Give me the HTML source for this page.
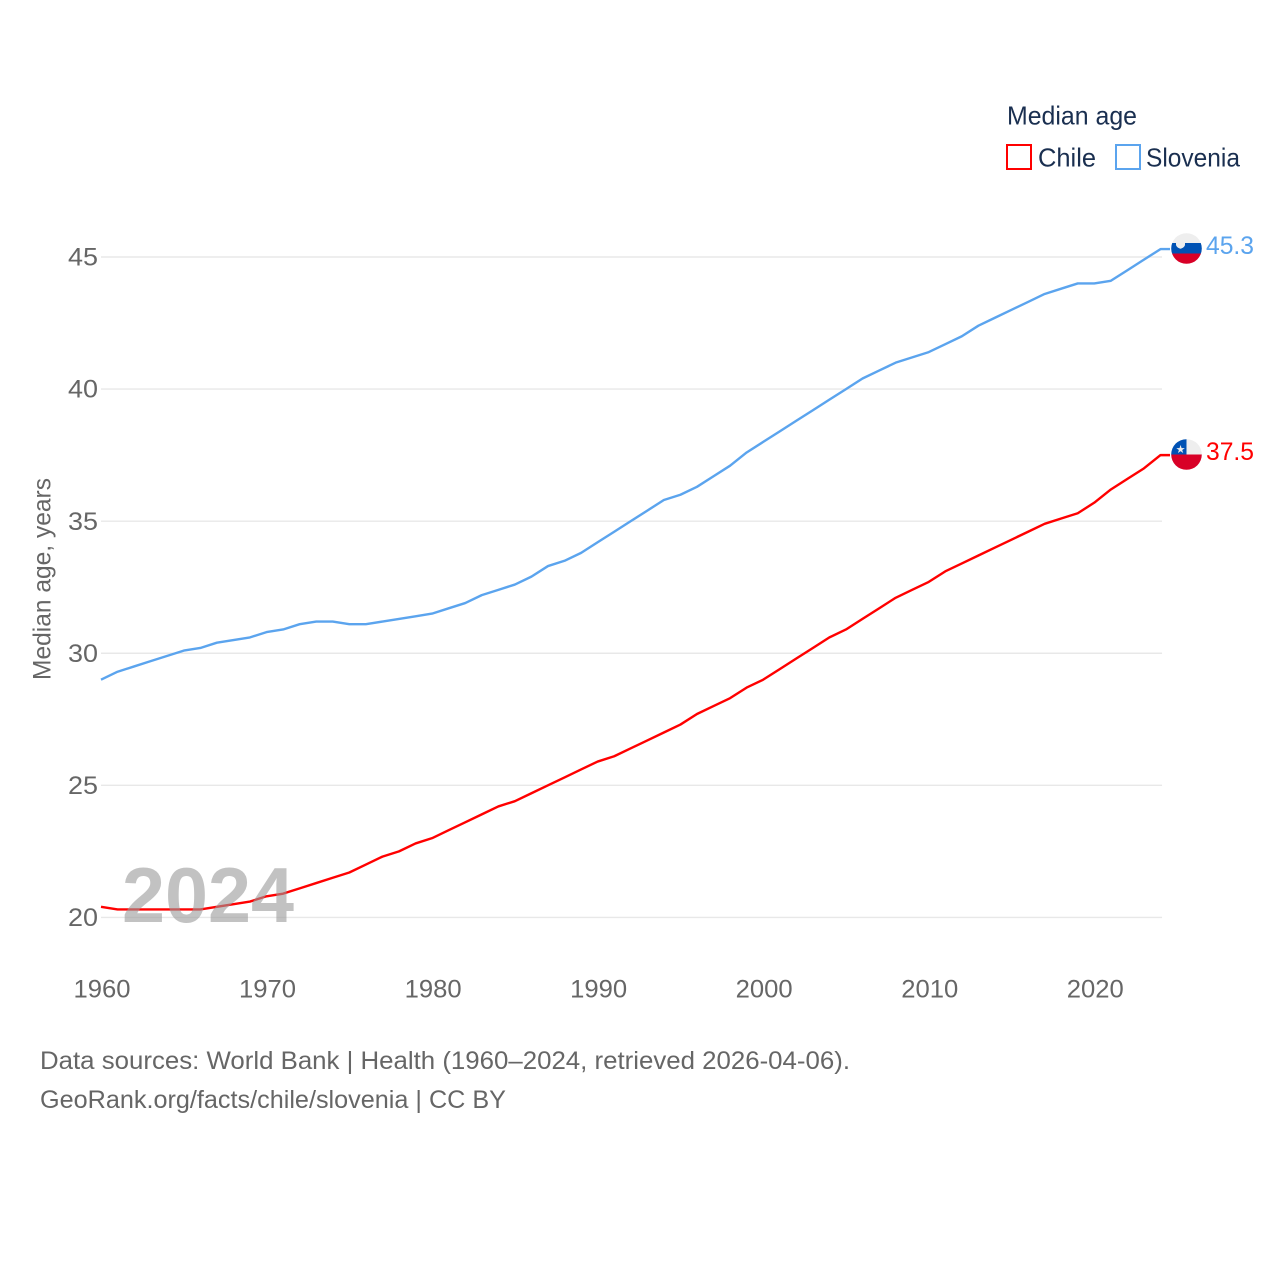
<!DOCTYPE html>
<html lang="en">
<head>
<meta charset="utf-8">
<title>Median age: Chile and Slovenia</title>
<style>
html,body{margin:0;padding:0;background:#fff;width:1280px;height:1280px;overflow:hidden}
svg{display:block}
text{font-family:"Liberation Sans",sans-serif}
</style>
</head>
<body>
<svg id="chart" width="1280" height="1280" viewBox="0 0 1280 1280" xmlns="http://www.w3.org/2000/svg">
  <defs>
    <clipPath id="clip-si"><circle cx="1186.5" cy="248.5" r="15.3"/></clipPath>
    <clipPath id="clip-cl"><circle cx="1186.5" cy="454.5" r="15.3"/></clipPath>
  </defs>
  <g id="grid"></g>
  <g id="yticks"></g>
  <g id="xticks"></g>
  <text transform="translate(50.5,680) rotate(-90)" font-size="25" fill="#666" textLength="202" lengthAdjust="spacingAndGlyphs">Median age, years</text>
  <g id="lines"></g>
  <text x="122" y="922" font-size="78" font-weight="bold" fill="#999" fill-opacity="0.6" textLength="172" lengthAdjust="spacingAndGlyphs">2024</text>

  <g clip-path="url(#clip-si)">
    <rect x="1170" y="232" width="33" height="11" fill="#eeeeee"/>
    <rect x="1170" y="243" width="33" height="10.5" fill="#0052b4"/>
    <rect x="1170" y="253.5" width="33" height="12" fill="#d80027"/>
    <path d="M1176 239.5h9v5c0 2.2-2.4 3.6-4.5 4.3c-2.1-.7-4.5-2.1-4.5-4.3z" fill="#eeeeee"/>
  </g>
  <g clip-path="url(#clip-cl)">
    <rect x="1170" y="438" width="33" height="16.5" fill="#eeeeee"/>
    <rect x="1170" y="438" width="16.5" height="16.5" fill="#0052b4"/>
    <rect x="1170" y="454.5" width="33" height="17" fill="#d80027"/>
    <text x="1180.5" y="453" font-size="11" fill="#eeeeee" text-anchor="middle">★</text>
  </g>
  <text x="1206" y="254" font-size="25" fill="#5ba4ee" textLength="48" lengthAdjust="spacingAndGlyphs">45.3</text>
  <text x="1206" y="460" font-size="25" fill="#ff0000" textLength="48" lengthAdjust="spacingAndGlyphs">37.5</text>

  <g>
    <text x="1007" y="124.5" font-size="26" fill="#1a2f50" textLength="130" lengthAdjust="spacingAndGlyphs">Median age</text>
    <g>
      <rect x="1007" y="145" width="24" height="24" fill="none" stroke="#ff0000" stroke-width="2"/>
      <text x="1038" y="166.5" font-size="26" fill="#1a2f50" textLength="58" lengthAdjust="spacingAndGlyphs">Chile</text>
    </g>
    <g>
      <rect x="1116" y="145" width="24" height="24" fill="none" stroke="#5ba4ee" stroke-width="2"/>
      <text x="1146" y="166.5" font-size="26" fill="#1a2f50" textLength="94" lengthAdjust="spacingAndGlyphs">Slovenia</text>
    </g>
  </g>

  <text x="40" y="1069" font-size="25" fill="#666" textLength="810" lengthAdjust="spacingAndGlyphs">Data sources: World Bank | Health (1960–2024, retrieved 2026-04-06).</text>
  <text x="40" y="1108" font-size="25" fill="#666" textLength="466" lengthAdjust="spacingAndGlyphs">GeoRank.org/facts/chile/slovenia | CC BY</text>
</svg>
<script>
const startYear = 1960;
const yTicks = [20, 25, 30, 35, 40, 45];
const xTicks = [1960, 1970, 1980, 1990, 2000, 2010, 2020];
const chileValues = [20.4,20.3,20.3,20.3,20.3,20.3,20.3,20.4,20.5,20.6,20.8,20.9,21.1,21.3,21.5,21.7,22.0,22.3,22.5,22.8,23.0,23.3,23.6,23.9,24.2,24.4,24.7,25.0,25.3,25.6,25.9,26.1,26.4,26.7,27.0,27.3,27.7,28.0,28.3,28.7,29.0,29.4,29.8,30.2,30.6,30.9,31.3,31.7,32.1,32.4,32.7,33.1,33.4,33.7,34.0,34.3,34.6,34.9,35.1,35.3,35.7,36.2,36.6,37.0,37.5];
const sloveniaValues = [29.0,29.3,29.5,29.7,29.9,30.1,30.2,30.4,30.5,30.6,30.8,30.9,31.1,31.2,31.2,31.1,31.1,31.2,31.3,31.4,31.5,31.7,31.9,32.2,32.4,32.6,32.9,33.3,33.5,33.8,34.2,34.6,35.0,35.4,35.8,36.0,36.3,36.7,37.1,37.6,38.0,38.4,38.8,39.2,39.6,40.0,40.4,40.7,41.0,41.2,41.4,41.7,42.0,42.4,42.7,43.0,43.3,43.6,43.8,44.0,44.0,44.1,44.5,44.9,45.3];

const NS = 'http://www.w3.org/2000/svg';
const xScale = year => 101 + (year - 1960) * 16.555;
const yScale = value => 917.4 - (value - 20) * 26.416;
const gridGroup = document.getElementById('grid');
const yGroup = document.getElementById('yticks');
const xGroup = document.getElementById('xticks');
const lineGroup = document.getElementById('lines');

yTicks.forEach(tick => {
  const line = document.createElementNS(NS, 'line');
  
  
  line.setAttribute('x1', xScale(1960));
  line.setAttribute('x2', xScale(2024) + 1.5);
  line.setAttribute('y1', yScale(tick));
  line.setAttribute('y2', yScale(tick));
  line.setAttribute('stroke', '#e8e8e8');
  line.setAttribute('stroke-width', '1.4');
  gridGroup.appendChild(line);

  const label = document.createElementNS(NS, 'text');
  
  
  label.setAttribute('x', 68);
  label.setAttribute('y', yScale(tick) + 8.6);
  label.setAttribute('font-size', '25');
  label.setAttribute('fill', '#666');
  label.setAttribute('textLength', '30');
  label.setAttribute('lengthAdjust', 'spacingAndGlyphs');
  label.textContent = tick;
  yGroup.appendChild(label);
});

xTicks.forEach(tick => {
  const label = document.createElementNS(NS, 'text');
  
  
  label.setAttribute('x', xScale(tick) - 27.5);
  label.setAttribute('y', 997.5);
  label.setAttribute('font-size', '25');
  label.setAttribute('fill', '#666');
  label.setAttribute('textLength', '57');
  label.setAttribute('lengthAdjust', 'spacingAndGlyphs');
  label.textContent = tick;
  xGroup.appendChild(label);
});

function drawSeries(values, color, name) {
  const pts = values.map((v, i) => xScale(startYear + i).toFixed(2) + ',' + yScale(v).toFixed(2));
  const lastY = yScale(values[values.length - 1]).toFixed(2);
  pts.push('1170,' + lastY);
  const path = document.createElementNS(NS, 'polyline');
  
  
  path.setAttribute('points', pts.join(' '));
  path.setAttribute('fill', 'none');
  path.setAttribute('stroke', color);
  path.setAttribute('stroke-width', '2.4');
  path.setAttribute('stroke-linejoin', 'round');
  lineGroup.appendChild(path);
}
drawSeries(sloveniaValues, '#5ba4ee', 'slovenia-line');
drawSeries(chileValues, '#ff0000', 'chile-line');
</script>
</body>
</html>
